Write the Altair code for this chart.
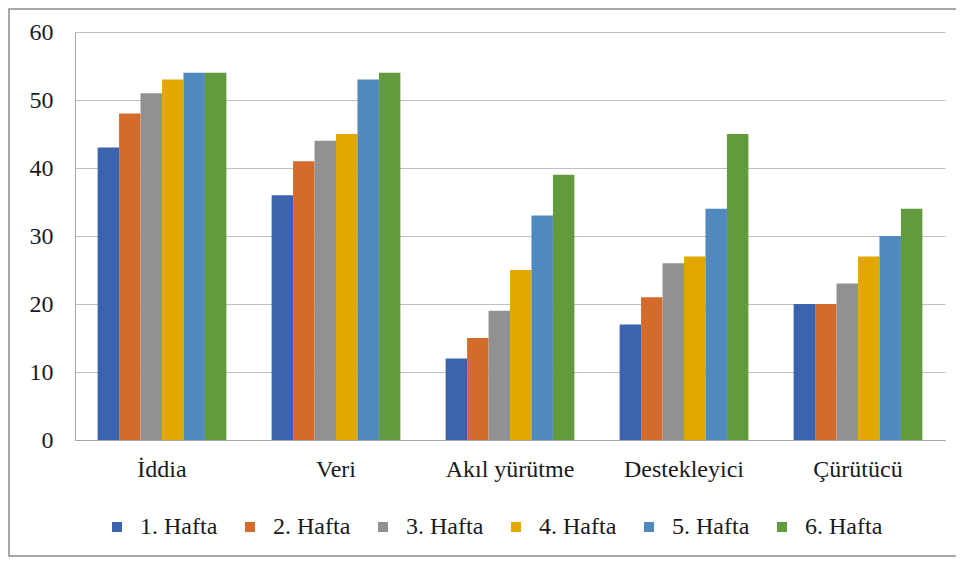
import altair as alt
import pandas as pd

categories = ["İddia", "Veri", "Akıl yürütme", "Destekleyici", "Çürütücü"]
series = ["1. Hafta", "2. Hafta", "3. Hafta", "4. Hafta", "5. Hafta", "6. Hafta"]
colors = ["#3c64ad", "#d46b2c", "#919191", "#e2a800", "#4f89be", "#629a3e"]

hafta1 = [43, 36, 12, 17, 20]
hafta2 = [48, 41, 15, 21, 20]
hafta3 = [51, 44, 19, 26, 23]
hafta4 = [53, 45, 25, 27, 27]
hafta5 = [54, 53, 33, 34, 30]
hafta6 = [54, 54, 39, 45, 34]

values_by_series = [hafta1, hafta2, hafta3, hafta4, hafta5, hafta6]
rows = []
for s, vals in zip(series, values_by_series):
    for c, v in zip(categories, vals):
        rows.append({"Kategori": c, "Hafta": s, "Değer": v})
df = pd.DataFrame(rows)

FONT = "Liberation Serif, Times New Roman, serif"
FS = 24

bars = alt.Chart(df).mark_bar().encode(
    x=alt.X("Kategori:N", sort=categories,
            scale=alt.Scale(paddingInner=0.26, paddingOuter=0.13),
            axis=alt.Axis(title=None, labelAngle=0, ticks=False, tickSize=0,
                          labelPadding=17, domainColor="#a6a6a6", grid=False)),
    xOffset=alt.XOffset("Hafta:N", sort=series, scale=alt.Scale(paddingInner=0, paddingOuter=0)),
    y=alt.Y("Değer:Q", scale=alt.Scale(domain=[0, 60], nice=False),
            axis=alt.Axis(title=None, values=[0, 10, 20, 30, 40, 50, 60], ticks=False, tickSize=0,
                          labelPadding=22, domain=True, domainColor="#a6a6a6",
                          grid=True, gridColor="#bfbfbf")),
    color=alt.Color("Hafta:N", sort=series,
                    scale=alt.Scale(domain=series, range=colors),
                    legend=alt.Legend(title=None, orient="none", direction="horizontal",
                                      columns=6, legendX=30, legendY=483,
                                      symbolType="square", symbolSize=100,
                                      symbolStrokeWidth=0, labelOffset=11,
                                      columnPadding=20, padding=0)),
)

border = alt.Chart(alt.Data(values=[{"a": 1}])).mark_rect(
    fill=None, stroke="#8c8c8c", strokeWidth=1.5
).encode(
    x=alt.value(-66), x2=alt.value(900),
    y=alt.value(-23), y2=alt.value(524),
)

chart = alt.layer(border, bars).properties(
    width=870, height=408,
    autosize=alt.AutoSizeParams(type="none"),
    padding={"left": 67, "top": 24, "right": 11, "bottom": 117},
).configure_view(stroke=None).configure_axis(
    labelFont=FONT, labelFontSize=FS, labelColor="#1a1a1a"
).configure_legend(
    labelFont=FONT, labelFontSize=FS, labelColor="#1a1a1a"
)

chart.save("out.html", embed_options={"renderer": "svg", "actions": False})
